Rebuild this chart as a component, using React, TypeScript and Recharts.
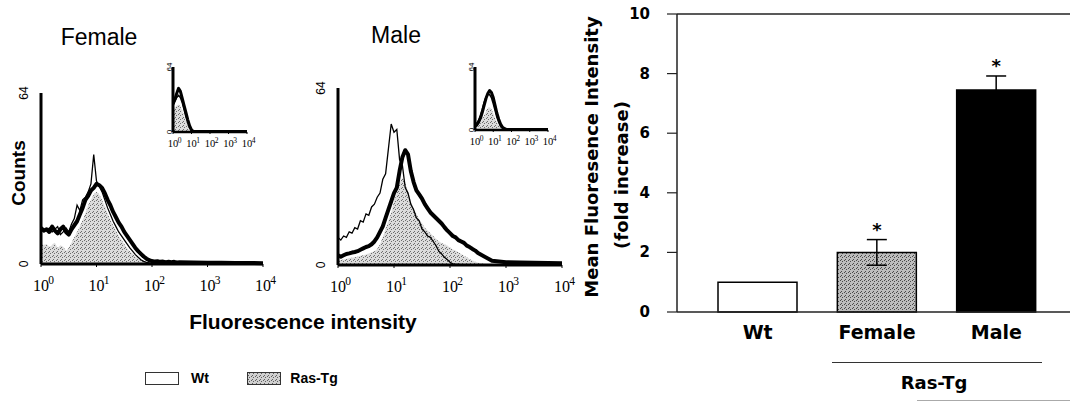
import React from "react";
import {
  ComposedChart,
  Area,
  Line,
  XAxis,
  YAxis,
  BarChart,
  Bar,
  Cell,
  ErrorBar,
  ReferenceLine,
  ReferenceDot,
} from "recharts";

// histogram bins, log10 of fluorescence channel
const mainBins = [
  0, 0.05, 0.1, 0.15, 0.2, 0.25, 0.3, 0.35, 0.4, 0.45,
  0.5, 0.55, 0.6, 0.65, 0.7, 0.75, 0.8, 0.85, 0.9, 0.95,
  1, 1.05, 1.1, 1.15, 1.2, 1.25, 1.3, 1.35, 1.4, 1.45,
  1.5, 1.55, 1.6, 1.65, 1.7, 1.75, 1.8, 1.85, 1.9, 1.95,
  2, 2.05, 2.1, 2.15, 2.2, 2.25, 2.3, 2.35, 2.4, 2.45,
  2.5, 2.75, 3, 3.25, 3.5, 3.75, 4,
];
const insetBins = [
  0, 0.1, 0.2, 0.3, 0.4, 0.5, 0.6, 0.7, 0.8, 0.9,
  1, 1.1, 1.2, 1.3, 1.4, 1.5, 1.6, 1.7, 1.8, 1.9,
  2, 2.5, 3, 3.5, 4,
];
const decades = [0, 1, 2, 3, 4];
const countTicks = [0, 64];

// Female panel (counts)
const femaleWt = [
  14, 13, 12.5, 13.5, 12, 13, 14, 11, 12, 13.5,
  12, 15, 17, 22, 20, 24, 25, 27, 30, 41,
  31, 29, 27, 24, 21, 18.5, 16, 14, 12, 10.5,
  9, 7.5, 6, 4.8, 3.5, 2.5, 1.6, 1, 0.6, 0.4,
  0.3, 0.2, 0.2, 0.2, 0.2, 0.2, 0.2, 0.2, 0.2, 0.2,
  0.2, 0.1, 0.1, 0.1, 0.1, 0.1, 0.1,
];
const femaleRas = [
  13.5, 12.5, 13, 12, 14, 12.5, 11.5, 13, 14, 12,
  11, 13, 14.5, 16, 18.5, 21, 24, 25.5, 27.5, 28.5,
  30, 29.5, 28.5, 26.5, 24, 22, 19.5, 17.5, 15.5, 14,
  12, 10.5, 9, 7.5, 6, 4.8, 3.8, 2.8, 2, 1.4,
  1.1, 0.9, 1, 0.8, 0.9, 0.7, 0.8, 0.7, 0.8, 0.6,
  0.7, 0.6, 0.5, 0.5, 0.4, 0.4, 0.3,
];
const femaleShade = [
  8, 7, 7.5, 6.5, 7, 8, 6, 7, 6.5, 5,
  6, 8, 10, 12, 14, 16.5, 19, 22, 24, 26,
  27, 26, 24, 21.5, 19, 16.5, 14.5, 12.5, 10.5, 9,
  7.5, 6, 4.8, 3.8, 2.8, 2, 1.3, 0.8, 0.4, 0.2,
  0, 0, 0, 0, 0, 0, 0, 0, 0, 0,
  0, 0, 0, 0, 0, 0, 0,
];

// Male panel
const maleWt = [
  10, 9, 10.5, 10, 12, 11.5, 13.5, 13, 16, 15.5,
  18.5, 18, 21, 22, 24.5, 26, 31, 33, 42, 51,
  48, 49, 38, 36, 28, 26, 22, 20, 17, 16,
  13, 12, 10.5, 10, 8.5, 7, 5, 4, 2.8, 2,
  1, 0.4, 0.2, 0.2, 0.1, 0.1, 0.1, 0.1, 0.1, 0.1,
  0.1, 0.1, 0, 0, 0, 0, 0,
];
const maleRas = [
  3.5, 3, 3.5, 4, 4.2, 4.5, 4.7, 5, 5.5, 6,
  6.5, 6.8, 7.5, 8.5, 10, 12, 14, 17, 20, 23,
  26, 28, 34, 39, 41.5, 40, 34, 30, 27, 25.5,
  24, 22, 20.5, 19, 18, 17, 16, 15, 13.7, 12.5,
  11.5, 10.5, 10, 9, 8.5, 8, 7, 6.5, 5.8, 5.2,
  4.3, 1.5, 1, 0.9, 0.8, 0.7, 0.6,
];
const maleShade = [
  2, 1.8, 2, 2.2, 2.5, 2.6, 2.8, 3, 3.3, 3.5,
  3.8, 4.2, 4.6, 5, 5.8, 7.5, 10, 13, 16, 19,
  23, 26, 30, 31.5, 30, 26, 23, 20.5, 18.5, 16.5,
  15, 13.5, 12.5, 11.5, 10.5, 9.5, 8.5, 8, 7.5, 7,
  6.3, 5.6, 5.2, 4.6, 4, 3.3, 2.8, 2.2, 1.6, 1.2,
  0.8, 0, 0, 0, 0, 0, 0,
];

// insets
const femaleInsetWt = [26, 30, 34, 36, 34, 29, 22, 15, 9, 4, 1.5, 0.5, 0.3, 0.3, 0.3, 0.3, 0.3, 0.3, 0.3, 0.3, 0.3, 0.3, 0.3, 0.3, 0.3];
const femaleInsetRas = [28, 32, 38, 43, 40, 33, 26, 19, 12, 6, 2, 0.5, 0.5, 0.5, 0.5, 0.5, 0.5, 0.5, 0.5, 0.5, 0.5, 0.5, 0.5, 0.5, 0.5];
const femaleInsetShade = [22, 24, 26, 27, 25, 21, 16, 11, 6, 2.5, 0.5, 0, 0, 0, 0, 0, 0, 0, 0, 0, 0, 0, 0, 0, 0];
const maleInsetWt = [5, 7, 10, 15, 21, 28, 33, 36, 36, 33, 27, 20, 13, 8, 4, 2, 1, 0.5, 0.3, 0.3, 0.3, 0.3, 0.3, 0.3, 0.3];
const maleInsetRas = [4, 5, 8, 12, 18, 25, 32, 37, 40, 38, 33, 25, 17, 11, 6, 3, 1.5, 0.8, 0.5, 0.5, 0.5, 0.5, 0.5, 0.5, 0.5];
const maleInsetShade = [1, 2, 4, 7, 11, 15, 19, 22, 23, 21, 17, 12, 8, 5, 2.5, 1, 0, 0, 0, 0, 0, 0, 0, 0, 0];

// bar chart
const groups = ["Wt", "Female", "Male"];
const foldIncrease = [1.0, 2.0, 7.45];
const foldError = [0, 0.43, 0.47];
const significant = [false, true, true];
const foldTicks = [0, 2, 4, 6, 8, 10];

function Stipple({ id, base, dot }: { id: string; base: string; dot: string }) {
  return (
    <defs>
      <pattern id={id} width={4} height={4} patternUnits="userSpaceOnUse">
        <rect width={4} height={4} fill={base} />
        <rect x={0} y={0} width={1} height={1} fill={dot} />
        <rect x={2} y={1} width={1} height={1} fill={dot} />
        <rect x={1} y={3} width={1} height={1} fill={dot} />
      </pattern>
    </defs>
  );
}

function Histogram(props: any) {
  const { id, bins, wt, ras, shade, left, top, width, height, margin, yAxisWidth, xAxisHeight, small } = props;
  const rows = bins.map((bin: number, i: number) => ({ bin, wt: wt[i], ras: ras[i], shade: shade[i] }));
  const fs = small ? 10.5 : 16;
  const yfs = small ? 8 : 12;

  const xTick = (p: any) => {
    const base = p.y + (small ? 13 : 24);
    return (
      <g>
        <text x={p.x} y={base} textAnchor="middle" fontFamily="Liberation Serif" fontSize={fs} fill="#000">
          10
        </text>
        <text x={p.x + fs * 0.45} y={base - fs * 0.42} fontFamily="Liberation Serif" fontSize={fs * 0.72} fill="#000">
          {p.payload.value}
        </text>
      </g>
    );
  };
  const yTick = (p: any) => (
    <text
      x={p.x}
      y={p.y}
      transform={`rotate(-90 ${p.x} ${p.y})`}
      textAnchor="middle"
      fontFamily="Liberation Sans"
      fontSize={yfs}
      fill="#000"
    >
      {p.payload.value}
    </text>
  );

  return (
    <div style={{ position: "absolute", left, top }}>
      <ComposedChart width={width} height={height} data={rows} margin={margin}>
        <Stipple id={id} base="#dcdcdc" dot="#6e6e6e" />
        <XAxis
          dataKey="bin"
          type="number"
          domain={[0, 4]}
          ticks={decades}
          tick={xTick}
          tickSize={small ? 2 : 3}
          tickMargin={0}
          tickLine={{ stroke: "#000" }}
          axisLine={{ stroke: "#000", strokeWidth: small ? 2.5 : 3 }}
          height={xAxisHeight}
          allowDataOverflow
        />
        <YAxis
          type="number"
          domain={[0, 64]}
          ticks={countTicks}
          tick={yTick}
          tickSize={0}
          tickMargin={small ? 1 : 13}
          axisLine={{ stroke: "#000", strokeWidth: 3 }}
          width={yAxisWidth}
        />
        <Area dataKey="shade" type="linear" stroke="none" fill={`url(#${id})`} fillOpacity={1} isAnimationActive={false} />
        <Line dataKey="wt" type="linear" stroke="#000" strokeWidth={small ? 1.6 : 1.3} dot={false} isAnimationActive={false} />
        <Line
          dataKey="ras"
          type="linear"
          stroke="#000"
          strokeWidth={small ? 3 : 4}
          strokeLinejoin="round"
          dot={false}
          isAnimationActive={false}
        />
      </ComposedChart>
    </div>
  );
}

function Label({ x, y, size, bold, family, rotate, children }: any) {
  return (
    <div
      style={{
        position: "absolute",
        left: x,
        top: y,
        transform: `translate(-50%, -50%)${rotate ? " rotate(-90deg)" : ""}`,
        fontSize: size,
        fontWeight: bold ? 700 : 400,
        fontFamily: family,
        whiteSpace: "nowrap",
        lineHeight: 1,
        color: "#000",
      }}
    >
      {children}
    </div>
  );
}

const verd = "DejaVu Sans, Verdana, sans-serif";
const sans = "Liberation Sans, Arial, sans-serif";

function FoldTick(p: any) {
  return (
    <text x={p.x} y={p.y} dy={5} textAnchor="end" fontFamily={verd} fontWeight={700} fontSize={15} fill="#000">
      {p.payload.value}
    </text>
  );
}

export default function App() {
  const barRows = groups.map((group, i) => ({
    group,
    fold: foldIncrease[i],
    err: foldError[i],
    star: significant[i],
  }));
  const barFills = ["#ffffff", "url(#barStipple)", "#000000"];

  return (
    <div style={{ position: "absolute", left: 0, top: 0, width: 1070, height: 402, background: "#fff", overflow: "hidden" }}>
      <Label x={99} y={37} size={23} family={sans}>Female</Label>
      <Label x={396} y={35} size={23} family={sans}>Male</Label>
      <Label x={18} y={173} size={19} bold rotate family={sans}>Counts</Label>

      <Histogram
        id="fMain"
        bins={mainBins}
        wt={femaleWt}
        ras={femaleRas}
        shade={femaleShade}
        left={0}
        top={0}
        width={300}
        height={310}
        margin={{ top: 93, right: 37, left: 15, bottom: 20 }}
        yAxisWidth={26}
        xAxisHeight={26}
      />
      <Histogram
        id="mMain"
        bins={mainBins}
        wt={maleWt}
        ras={maleRas}
        shade={maleShade}
        left={297}
        top={0}
        width={300}
        height={310}
        margin={{ top: 88, right: 35, left: 15, bottom: 19 }}
        yAxisWidth={26}
        xAxisHeight={26}
      />
      <Histogram
        id="fInset"
        bins={insetBins}
        wt={femaleInsetWt}
        ras={femaleInsetRas}
        shade={femaleInsetShade}
        left={150}
        top={50}
        width={110}
        height={110}
        margin={{ top: 17, right: 13, left: 11, bottom: 8 }}
        yAxisWidth={12}
        xAxisHeight={20}
        small
      />
      <Histogram
        id="mInset"
        bins={insetBins}
        wt={maleInsetWt}
        ras={maleInsetRas}
        shade={maleInsetShade}
        left={450}
        top={50}
        width={110}
        height={110}
        margin={{ top: 17, right: 12, left: 13, bottom: 10 }}
        yAxisWidth={12}
        xAxisHeight={20}
        small
      />

      <Label x={303} y={321} size={21} bold family={sans}>Fluorescence intensity</Label>

      {/* legend */}
      <div style={{ position: "absolute", left: 145, top: 372, width: 32, height: 11, border: "1px solid #333", background: "#fff" }} />
      <Label x={200} y={378} size={14} bold family={sans}>Wt</Label>
      <svg style={{ position: "absolute", left: 247, top: 372 }} width={34} height={13}>
        <Stipple id="legStipple" base="#d0d0d0" dot="#606060" />
        <rect x={0.5} y={0.5} width={33} height={12} fill="url(#legStipple)" stroke="#333" strokeWidth={1} />
      </svg>
      <Label x={314} y={378} size={14} bold family={sans}>Ras-Tg</Label>

      {/* bar chart */}
      <Label x={592} y={157} size={18} bold rotate family={verd}>Mean Fluoresence Intensity</Label>
      <Label x={622} y={175} size={18} bold rotate family={verd}>(fold increase)</Label>
      <div style={{ position: "absolute", left: 600, top: 0 }}>
        <BarChart width={470} height={402} data={barRows} margin={{ top: 14, right: 0, left: 37, bottom: 60 }}>
          <Stipple id="barStipple" base="#bdbdbd" dot="#4a4a4a" />
          <XAxis
            dataKey="group"
            tickLine={false}
            tickSize={0}
            tickMargin={14}
            interval={0}
            padding={{ left: 21, right: 14 }}
            height={30}
            axisLine={{ stroke: "#222", strokeWidth: 1.5 }}
            tick={{ fill: "#000", fontSize: 19, fontWeight: 700, fontFamily: verd }}
          />
          <YAxis
            type="number"
            domain={[0, 10]}
            ticks={foldTicks}
            tickSize={10}
            tickMargin={17}
            width={40}
            axisLine={{ stroke: "#222", strokeWidth: 1.5 }}
            tickLine={{ stroke: "#222", strokeWidth: 1.2 }}
            tick={FoldTick}
          />
          <ReferenceLine y={10} stroke="#222" strokeWidth={1.5} />
          <Bar dataKey="fold" barSize={79} stroke="#000" strokeWidth={1.5} isAnimationActive={false}>
            {barRows.map((r, i) => (
              <Cell key={r.group} fill={barFills[i]} />
            ))}
            <ErrorBar dataKey="err" width={10} stroke="#000" strokeWidth={1.5} />
          </Bar>
          {barRows
            .filter((r) => r.star)
            .map((r) => (
              <ReferenceDot
                key={r.group}
                x={r.group}
                y={r.fold + r.err + 0.35}
                r={0}
                label={{ value: "*", position: "center", fill: "#000", fontSize: 18, fontWeight: 700, fontFamily: verd }}
              />
            ))}
        </BarChart>
      </div>
      <div style={{ position: "absolute", left: 832, top: 362, width: 210, height: 1, background: "#333" }} />
      <Label x={934} y={383} size={18} bold family={verd}>Ras-Tg</Label>
      <div style={{ position: "absolute", left: 917, top: 400, width: 153, height: 1, background: "#aaa" }} />
    </div>
  );
}
